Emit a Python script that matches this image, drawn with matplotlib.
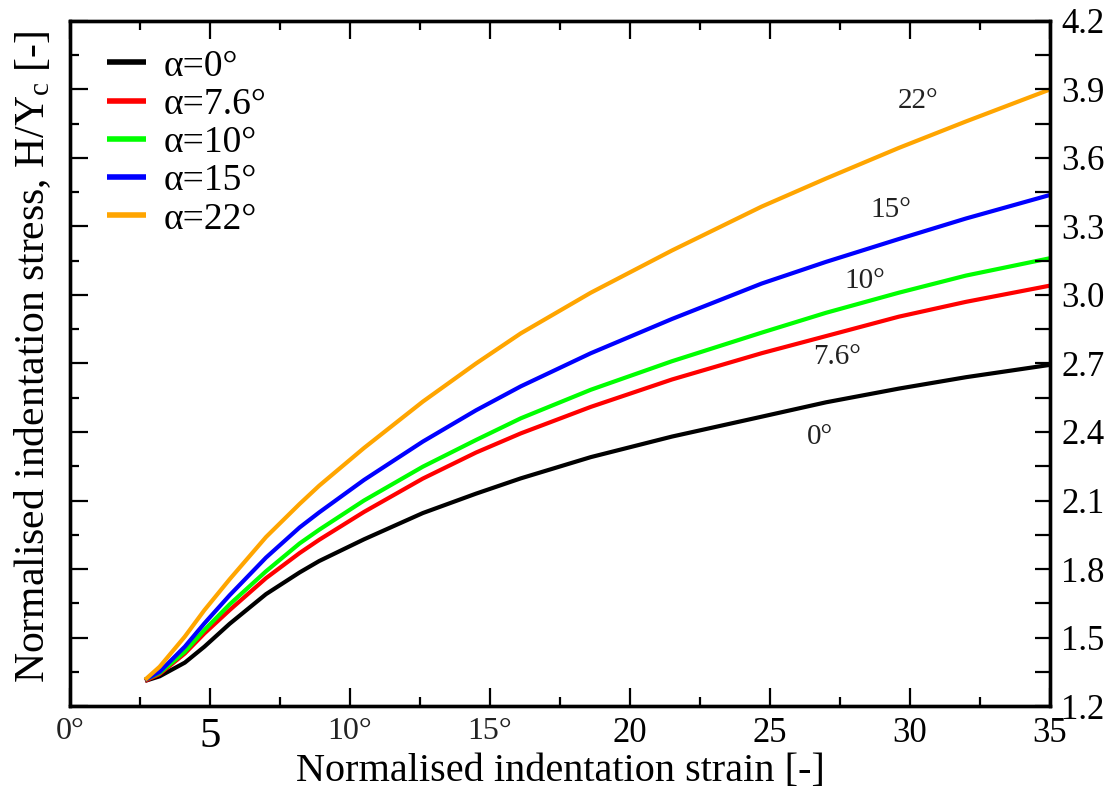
import numpy as np
import matplotlib
matplotlib.use('Agg')
import matplotlib.pyplot as plt
from matplotlib.ticker import MultipleLocator

plt.rcParams['font.family'] = ['Liberation Serif', 'DejaVu Serif']
plt.rcParams['mathtext.fontset'] = 'custom'
plt.rcParams['mathtext.rm'] = 'Liberation Serif'
plt.rcParams['mathtext.it'] = 'Liberation Serif:italic'

# values
strain = [2.68, 3.2, 4.1, 4.8, 5.7, 7.0, 8.2, 8.9, 10.5, 12.6, 14.5, 16.1,
          18.6, 21.5, 24.7, 27.0, 29.6, 32.0, 35.0]
h_0 = [1.31, 1.33, 1.39, 1.46, 1.56, 1.69, 1.785, 1.835, 1.93, 2.045, 2.13, 2.197,
       2.29, 2.38, 2.467, 2.53, 2.59, 2.64, 2.694]
h_76 = [1.31, 1.34, 1.43, 1.518, 1.62, 1.76, 1.87, 1.928, 2.05, 2.196, 2.31, 2.394,
        2.51, 2.63, 2.745, 2.82, 2.905, 2.97, 3.041]
h_10 = [1.315, 1.345, 1.438, 1.533, 1.645, 1.79, 1.912, 1.972, 2.10, 2.248, 2.365, 2.46,
        2.585, 2.71, 2.835, 2.922, 3.01, 3.085, 3.161]
h_15 = [1.315, 1.35, 1.46, 1.562, 1.685, 1.85, 1.982, 2.048, 2.19, 2.358, 2.495, 2.60,
        2.745, 2.895, 3.05, 3.145, 3.245, 3.335, 3.438]
h_22 = [1.315, 1.372, 1.504, 1.62, 1.755, 1.94, 2.085, 2.165, 2.33, 2.533, 2.70, 2.832,
        3.01, 3.195, 3.387, 3.51, 3.644, 3.76, 3.90]

series = [h_0, h_76, h_10, h_15, h_22]
names = ['α=0°', 'α=7.6°', 'α=10°', 'α=15°', 'α=22°']
colors = ['black', 'red', '#00ff00', 'blue', 'orange']

# curve annotations
note_text = ['0°', '7.6°', '10°', '15°', '22°']
note_x = [26.8, 27.4, 28.4, 29.3, 30.3]
note_y = [2.38, 2.73, 3.06, 3.37, 3.85]

xticks = [0, 5, 10, 15, 20, 25, 30, 35]
xlabels = ['0°', '5', '10°', '15°', '20', '25', '30', '35']

fig = plt.figure(figsize=(11.15, 7.94), dpi=100)
ax = fig.add_axes([0.0628, 0.1108, 0.8789, 0.8628])

for h, n, c in zip(series, names, colors):
    ax.plot(strain, h, color=c, lw=3, label=n, solid_capstyle='butt')

for t, xx, yy in zip(note_text, note_x, note_y):
    ax.text(xx, yy, t, fontsize=21, color='#222222', ha='center', va='center')

ax.set_xlim(0, 35)
ax.set_ylim(1.2, 4.2)

ax.set_xticks(xticks)
ax.set_xticklabels(xlabels)
ax.xaxis.set_minor_locator(MultipleLocator(2.5))
ax.yaxis.set_major_locator(MultipleLocator(0.3))
ax.yaxis.set_minor_locator(MultipleLocator(0.15))
ax.tick_params(which='both', direction='in', top=True, right=False, labelleft=False,
               width=1.6)
ax.tick_params(which='major', length=13, labelsize=25, pad=8)
ax.tick_params(which='minor', length=6.5)
for lab in ax.get_xticklabels():
    if lab.get_text() == '5':
        lab.set_fontsize(31)
    elif '°' in lab.get_text():
        lab.set_fontsize(23)
        lab.set_color('#222222')

ax2 = ax.twinx()
ax2.set_ylim(1.2, 4.2)
ax2.yaxis.set_major_locator(MultipleLocator(0.3))
ax2.yaxis.set_minor_locator(MultipleLocator(0.15))
ax2.tick_params(which='both', direction='in', length=11, width=1.6)
ax2.tick_params(which='major', labelsize=25, pad=8)
ax2.set_yticklabels([f'{v:.1f}' for v in ax2.get_yticks()])

for a in (ax, ax2):
    for s in a.spines.values():
        s.set_linewidth(2.4)

ax.set_xlabel('Normalised indentation strain [-]', fontsize=29, labelpad=-2)
ax.set_ylabel(r'Normalised indentation stress, H/Y$_\mathrm{c}$ [-]', fontsize=30,
              labelpad=12, y=0.51)

leg = ax.legend(loc='upper left', bbox_to_anchor=(0.009, 1.0), fontsize=27, frameon=False,
                handlelength=1.05, handletextpad=0.45, labelspacing=0.1,
                borderpad=0.3, borderaxespad=0.45)
for line in leg.get_lines():
    line.set_linewidth(4)

fig.savefig('out.png', dpi=100)
